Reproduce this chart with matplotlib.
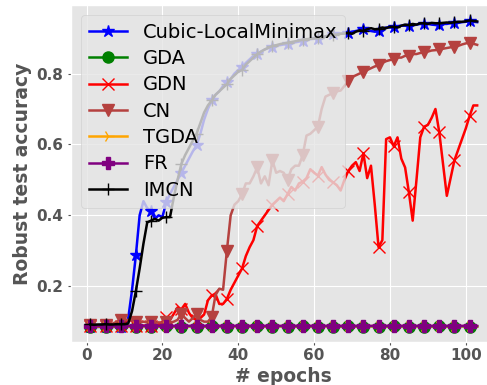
import numpy as np
import matplotlib
matplotlib.use("Agg")
import matplotlib.pyplot as plt

plt.style.use("ggplot")

# Robust test accuracy per epoch (epochs 1..103)
cubic_localminimax = [
    0.085, 0.086, 0.085, 0.086, 0.085, 0.086, 0.085, 0.086, 0.086, 0.088,
    0.110, 0.190, 0.287, 0.400, 0.440, 0.420, 0.413, 0.390, 0.400, 0.395,
    0.437, 0.460, 0.480, 0.500, 0.520, 0.540, 0.560, 0.580, 0.597, 0.630,
    0.670, 0.700, 0.724, 0.740, 0.750, 0.765, 0.775, 0.785, 0.800, 0.810,
    0.818, 0.830, 0.840, 0.850, 0.855, 0.862, 0.868, 0.872, 0.876, 0.879,
    0.880, 0.882, 0.882, 0.885, 0.888, 0.890, 0.893, 0.895, 0.897, 0.898,
    0.898, 0.900, 0.905, 0.908, 0.912, 0.910, 0.913, 0.912, 0.914, 0.918,
    0.920, 0.922, 0.926, 0.922, 0.920, 0.918, 0.919, 0.925, 0.930, 0.930,
    0.930, 0.933, 0.935, 0.935, 0.935, 0.937, 0.938, 0.940, 0.940, 0.940,
    0.938, 0.937, 0.938, 0.940, 0.940, 0.942, 0.942, 0.943, 0.945, 0.946,
    0.948, 0.946, 0.945,
]

gda = [
    0.086, 0.086, 0.087, 0.086, 0.086, 0.087, 0.086, 0.086, 0.087, 0.086,
    0.086, 0.087, 0.086, 0.086, 0.087, 0.086, 0.086, 0.087, 0.086, 0.086,
    0.087, 0.086, 0.086, 0.087, 0.086, 0.086, 0.087, 0.086, 0.086, 0.087,
    0.086, 0.086, 0.087, 0.086, 0.086, 0.087, 0.086, 0.086, 0.087, 0.086,
    0.086, 0.087, 0.086, 0.086, 0.087, 0.086, 0.086, 0.087, 0.086, 0.086,
    0.087, 0.086, 0.086, 0.087, 0.086, 0.086, 0.087, 0.086, 0.086, 0.087,
    0.086, 0.086, 0.087, 0.086, 0.086, 0.087, 0.086, 0.086, 0.087, 0.086,
    0.086, 0.087, 0.086, 0.086, 0.087, 0.086, 0.086, 0.087, 0.086, 0.086,
    0.087, 0.086, 0.086, 0.087, 0.086, 0.086, 0.087, 0.086, 0.086, 0.087,
    0.086, 0.086, 0.087, 0.086, 0.086, 0.087, 0.086, 0.086, 0.087, 0.086,
    0.086, 0.087, 0.086,
]

gdn = [
    0.087, 0.088, 0.087, 0.088, 0.088, 0.087, 0.088, 0.088, 0.087, 0.088,
    0.088, 0.087, 0.088, 0.088, 0.089, 0.088, 0.089, 0.090, 0.092, 0.100,
    0.113, 0.105, 0.122, 0.140, 0.135, 0.150, 0.125, 0.110, 0.105, 0.110,
    0.120, 0.160, 0.174, 0.178, 0.150, 0.150, 0.164, 0.190, 0.210, 0.230,
    0.250, 0.285, 0.310, 0.330, 0.370, 0.385, 0.400, 0.415, 0.430, 0.440,
    0.450, 0.440, 0.460, 0.480, 0.470, 0.490, 0.495, 0.505, 0.530, 0.520,
    0.512, 0.536, 0.515, 0.500, 0.493, 0.485, 0.470, 0.500, 0.525, 0.540,
    0.550, 0.525, 0.575, 0.505, 0.540, 0.430, 0.310, 0.330, 0.615, 0.620,
    0.595, 0.620, 0.560, 0.535, 0.465, 0.385, 0.500, 0.620, 0.650, 0.655,
    0.675, 0.700, 0.635, 0.545, 0.455, 0.505, 0.555, 0.585, 0.615, 0.645,
    0.680, 0.710, 0.710,
]

cn = [
    0.090, 0.091, 0.090, 0.091, 0.090, 0.092, 0.095, 0.100, 0.105, 0.105,
    0.105, 0.103, 0.100, 0.098, 0.100, 0.098, 0.100, 0.097, 0.098, 0.097,
    0.100, 0.097, 0.100, 0.105, 0.122, 0.110, 0.100, 0.110, 0.122, 0.105,
    0.100, 0.100, 0.113, 0.175, 0.193, 0.190, 0.300, 0.400, 0.430, 0.440,
    0.460, 0.490, 0.490, 0.510, 0.535, 0.490, 0.510, 0.485, 0.555, 0.520,
    0.525, 0.520, 0.500, 0.530, 0.540, 0.540, 0.570, 0.625, 0.630, 0.640,
    0.650, 0.700, 0.735, 0.740, 0.745, 0.750, 0.752, 0.765, 0.780, 0.790,
    0.795, 0.800, 0.804, 0.810, 0.815, 0.820, 0.823, 0.830, 0.835, 0.838,
    0.840, 0.845, 0.845, 0.850, 0.850, 0.855, 0.855, 0.858, 0.860, 0.862,
    0.865, 0.866, 0.868, 0.870, 0.872, 0.874, 0.876, 0.878, 0.882, 0.885,
    0.887, 0.884, 0.881,
]

tgda = [
    0.087, 0.088, 0.087, 0.088, 0.087, 0.088, 0.087, 0.088, 0.087, 0.088,
    0.087, 0.088, 0.087, 0.088, 0.087, 0.088, 0.087, 0.088, 0.087, 0.088,
    0.087, 0.088, 0.087, 0.088, 0.087, 0.088, 0.087, 0.088, 0.087, 0.088,
    0.087, 0.088, 0.087, 0.088, 0.087, 0.088, 0.087, 0.088, 0.087, 0.088,
    0.087, 0.088, 0.087, 0.088, 0.087, 0.088, 0.087, 0.088, 0.087, 0.088,
    0.087, 0.088, 0.087, 0.088, 0.087, 0.088, 0.087, 0.088, 0.087, 0.088,
    0.087, 0.088, 0.087, 0.088, 0.087, 0.088, 0.087, 0.088, 0.087, 0.088,
    0.087, 0.088, 0.087, 0.088, 0.087, 0.088, 0.087, 0.088, 0.087, 0.088,
    0.087, 0.088, 0.087, 0.088, 0.087, 0.088, 0.087, 0.088, 0.087, 0.088,
    0.087, 0.088, 0.087, 0.088, 0.087, 0.088, 0.087, 0.088, 0.087, 0.088,
    0.087, 0.088, 0.087,
]

fr = [
    0.089, 0.089, 0.088, 0.089, 0.089, 0.089, 0.088, 0.089, 0.089, 0.089,
    0.088, 0.089, 0.089, 0.089, 0.088, 0.089, 0.089, 0.089, 0.088, 0.089,
    0.089, 0.089, 0.088, 0.089, 0.089, 0.089, 0.088, 0.089, 0.089, 0.089,
    0.088, 0.089, 0.089, 0.089, 0.088, 0.089, 0.089, 0.089, 0.088, 0.089,
    0.089, 0.089, 0.088, 0.089, 0.089, 0.089, 0.088, 0.089, 0.089, 0.089,
    0.088, 0.089, 0.089, 0.089, 0.088, 0.089, 0.089, 0.089, 0.088, 0.089,
    0.089, 0.089, 0.088, 0.089, 0.089, 0.089, 0.088, 0.089, 0.089, 0.089,
    0.088, 0.089, 0.089, 0.089, 0.088, 0.089, 0.089, 0.089, 0.088, 0.089,
    0.089, 0.089, 0.088, 0.089, 0.089, 0.089, 0.088, 0.089, 0.089, 0.089,
    0.088, 0.089, 0.089, 0.089, 0.088, 0.089, 0.089, 0.089, 0.088, 0.089,
    0.089, 0.089, 0.088,
]

imcn = [
    0.092, 0.091, 0.092, 0.092, 0.093, 0.092, 0.092, 0.093, 0.093, 0.093,
    0.095, 0.130, 0.186, 0.250, 0.320, 0.380, 0.385, 0.390, 0.385, 0.393,
    0.395, 0.395, 0.450, 0.500, 0.545, 0.570, 0.590, 0.610, 0.630, 0.660,
    0.690, 0.710, 0.724, 0.740, 0.750, 0.760, 0.770, 0.785, 0.795, 0.805,
    0.810, 0.825, 0.835, 0.845, 0.855, 0.862, 0.868, 0.873, 0.878, 0.880,
    0.883, 0.885, 0.887, 0.889, 0.891, 0.893, 0.896, 0.897, 0.898, 0.899,
    0.900, 0.902, 0.905, 0.907, 0.910, 0.910, 0.912, 0.913, 0.915, 0.912,
    0.918, 0.922, 0.920, 0.925, 0.928, 0.925, 0.926, 0.930, 0.928, 0.932,
    0.932, 0.930, 0.935, 0.938, 0.937, 0.940, 0.938, 0.942, 0.942, 0.940,
    0.943, 0.942, 0.942, 0.943, 0.944, 0.943, 0.945, 0.946, 0.946, 0.947,
    0.950, 0.948, 0.947,
]

series = [
    ("Cubic-LocalMinimax", cubic_localminimax, "blue", "*", 9),
    ("GDA", gda, "green", "o", 8),
    ("GDN", gdn, "red", "x", 8),
    ("CN", cn, "#b5413f", "v", 8),
    ("TGDA", tgda, "orange", "4", 9),
    ("FR", fr, "purple", "P", 8),
    ("IMCN", imcn, "black", "+", 9),
]

fig = plt.figure(figsize=(4.87, 3.85), dpi=100)
ax = fig.add_axes([0.1458, 0.1109, 0.8737, 0.876])

for label, values, color, marker, ms in series:
    epochs = np.arange(1, len(values) + 1)
    ax.plot(epochs, values, color=color, marker=marker, markersize=ms,
            markevery=4, linewidth=1.8, label=label)

tick_color = "#555555"
ax.set_xlabel("# epochs", fontsize=13.5, fontweight="bold", color=tick_color,
              labelpad=3)
ax.set_ylabel("Robust test accuracy", fontsize=13.5, fontweight="bold",
              color=tick_color, labelpad=3)
ax.set_xticks([0, 20, 40, 60, 80, 100])
ax.set_yticks([0.2, 0.4, 0.6, 0.8])
ax.tick_params(axis="x", length=2.5, pad=1.5)
ax.tick_params(axis="y", length=2.5, pad=3)
for lbl in ax.get_xticklabels() + ax.get_yticklabels():
    lbl.set_fontweight("bold")
    lbl.set_fontsize(11)
    lbl.set_color(tick_color)

ax.legend(loc="upper left", fontsize=14, labelspacing=0.38)

fig.savefig("out.png", dpi=100)
